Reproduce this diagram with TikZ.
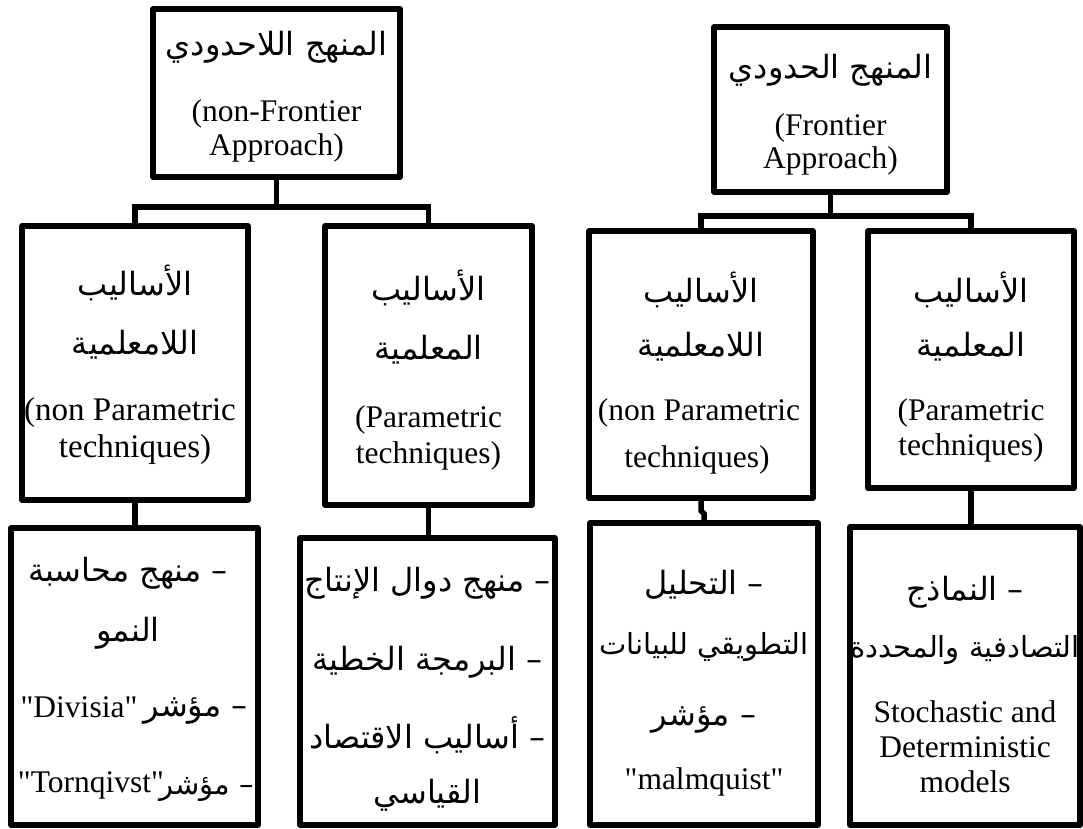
\documentclass[tikz,border=0pt]{standalone}
\usepackage{fontspec}
\setmainfont{Liberation Serif}[Ligatures=TeXOff]
\newfontfamily\latfont{Liberation Serif}[Ligatures=TeXOff]
\newfontfamily\arabicfont[Script=Arabic]{DejaVu Sans}
\TeXXeTstate=1
\begin{document}
\begin{tikzpicture}[x=1pt,y=-1pt,
  box/.style={draw, line width=5.5pt, inner sep=0pt, line join=round},
  conn/.style={line width=5.5pt},
  lt/.style={font=\latfont\fontsize{31.5}{38}\selectfont, inner sep=0pt},
  ltbig/.style={font=\latfont\fontsize{33}{40}\selectfont, inner sep=0pt},
  ar/.style={font=\arabicfont\fontsize{32}{38}\selectfont, inner sep=0pt},
  arsm/.style={font=\arabicfont\fontsize{29}{34}\selectfont, inner sep=0pt}]
\useasboundingbox (0,0) rectangle (1083,828);

% boxes
\node[box, minimum width=247pt, minimum height=168pt] (TL) at (276.5,93) {};
\node[box, minimum width=233pt, minimum height=165pt] (TR) at (830.5,109.5) {};
\node[box, minimum width=226pt, minimum height=274pt] (A) at (135,363) {};
\node[box, minimum width=207pt, minimum height=279pt] (B) at (428.5,365.5) {};
\node[box, minimum width=224pt, minimum height=267pt] (E) at (701,364.5) {};
\node[box, minimum width=206pt, minimum height=257pt] (F) at (971,359.5) {};
\node[box, minimum width=247pt, minimum height=297pt] (C) at (134.5,676.5) {};
\node[box, minimum width=255pt, minimum height=287pt] (D) at (427.5,681.5) {};
\node[box, minimum width=228pt, minimum height=302pt] (G) at (704,674) {};
\node[box, minimum width=230pt, minimum height=298pt] (H) at (965,676) {};

% connectors
\path (TL.south) ++(0,27) coordinate (jL);
\draw[conn] (TL.south) -- (jL);
\draw[conn] (jL) -| (A.north);
\draw[conn] (jL) -| (B.north);
\path (TR.south) ++(0,21) coordinate (jR);
\draw[conn] (TR.south) -- (jR);
\draw[conn] (jR) -| (E.north);
\draw[conn] (jR) -| (F.north);
\draw[conn] (A.south) -- (A.south |- C.north);
\draw[conn] (B.south) -- (B.south |- D.north);
\draw[conn] (E.south) -- ++(0,10) -- ++(3,3) -- (G.north);
\draw[conn] (F.south) -- (F.south |- H.north);

% texts top
\node[ar] (TL1) at (276.5,47) {\beginR المنهج اللاحدودي\endR};
\node[lt] (TL2) at (276.5,114) {(non-Frontier};
\node[lt] (TL3) at (276.5,148) {Approach)};
\node[ar] (TR1) at (830.5,70) {\beginR المنهج الحدودي\endR};
\node[lt] (TR2) at (830.5,128) {(Frontier};
\node[lt] (TR3) at (830.5,161) {Approach)};

% second row
\node[ar] (A1) at (135,283) {\beginR الأساليب\endR};
\node[ar] (A2) at (135,345) {\beginR اللامعلمية\endR};
\node[ltbig] (A3) at (130,413) {(non Parametric};
\node[ltbig] (A4) at (135,450) {techniques)};
\node[ar] (B1) at (428.5,288) {\beginR الأساليب\endR};
\node[ar] (B2) at (428.5,350) {\beginR المعلمية\endR};
\node[lt] (B3) at (428.5,420) {(Parametric};
\node[lt] (B4) at (428.5,456) {techniques)};
\node[ar] (E1) at (701,290) {\beginR الأساليب\endR};
\node[ar] (E2) at (701,347) {\beginR اللامعلمية\endR};
\node[lt] (E3) at (699,413) {(non Parametric};
\node[lt] (E4) at (697,460) {techniques)};
\node[ar] (F1) at (971,290) {\beginR الأساليب\endR};
\node[ar] (F2) at (971,347) {\beginR المعلمية\endR};
\node[lt] (F3) at (971,413) {(Parametric};
\node[lt] (F4) at (971,448) {techniques)};

% bottom row
\node[ar] (C1) at (128,573) {\beginR – منهج محاسبة\endR};
\node[ar] (C2) at (128,633) {\beginR النمو\endR};
\node[lt] (C3l) at (79,707) {"Divisia"};
\node[ar, anchor=base east] (C3a) at (248,716) {\beginR – مؤشر\endR};
\node[lt] (C4l) at (91,785) {"Tornqivst"};
\node[arsm, anchor=base east] (C4a) at (254,794) {\beginR – مؤشر\endR};
\node[ar] (D1) at (427.5,583) {\beginR – منهج دوال الإنتاج\endR};
\node[ar] (D2) at (427.5,662) {\beginR – البرمجة الخطية\endR};
\node[ar] (D3) at (427.5,735) {\beginR – أساليب الاقتصاد\endR};
\node[ar] (D4) at (427.5,795) {\beginR القياسي\endR};
\node[ar] (G1) at (704,585) {\beginR – التحليل\endR};
\node[arsm] (G2) at (704,647) {\beginR التطويقي للبيانات\endR};
\node[ar] (G3) at (704,720) {\beginR – مؤشر\endR};
\node[lt] (G4) at (704,782) {"malmquist"};
\node[ar] (H1) at (965,592) {\beginR – النماذج\endR};
\node[arsm] (H2) at (965,650) {\beginR التصادفية والمحددة\endR};
\node[lt] (H3) at (965,712) {Stochastic and};
\node[lt] (H4) at (965,747) {Deterministic};
\node[lt] (H5) at (965,782) {models};
\end{tikzpicture}
\end{document}
